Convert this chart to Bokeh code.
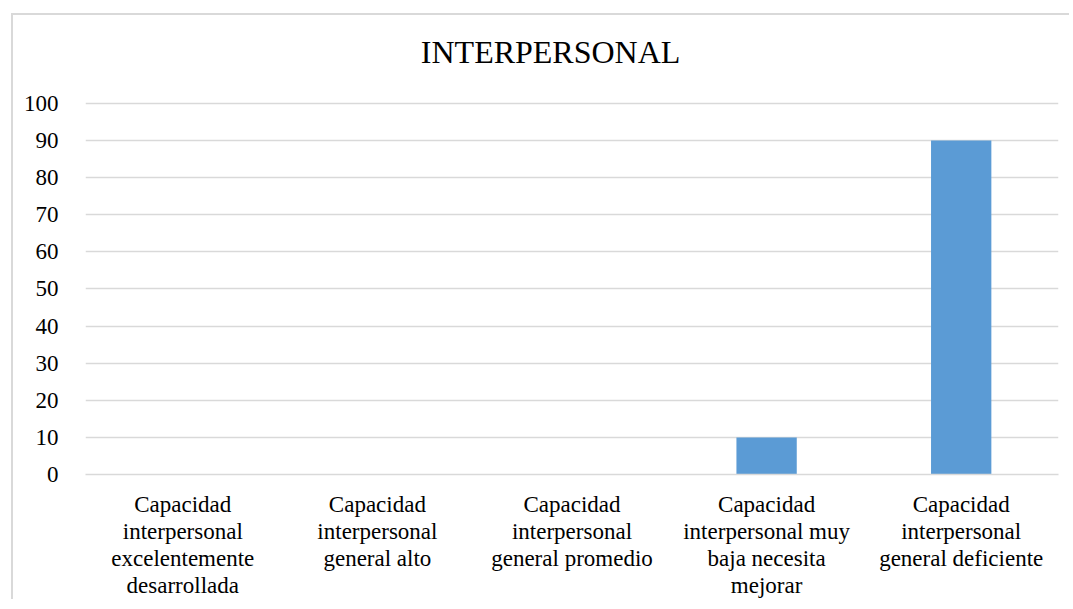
from bokeh.plotting import figure
from bokeh.models import Range1d, Label, FixedTicker, ColumnDataSource
from bokeh.embed import file_html
from bokeh.resources import INLINE

title_text = "INTERPERSONAL"
categories = [
    "Capacidad\ninterpersonal\nexcelentemente\ndesarrollada",
    "Capacidad\ninterpersonal\ngeneral alto",
    "Capacidad\ninterpersonal\ngeneral promedio",
    "Capacidad\ninterpersonal muy\nbaja necesita\nmejorar",
    "Capacidad\ninterpersonal\ngeneral deficiente",
]
values = [0, 0, 0, 10, 90]
y_ticks = [0, 10, 20, 30, 40, 50, 60, 70, 80, 90, 100]

FONT = "'Liberation Serif', 'Times New Roman', serif"
GRID = "#d9d9d9"

# frame extends above 100 (invisible) so the title can sit inside it
Y_TOP = 118.3

p = figure(
    x_range=categories,
    y_range=Range1d(0, Y_TOP),
    width=1058, height=586,
    output_backend="svg", toolbar_location=None,
    min_border_left=72, min_border_right=13,
    min_border_top=20, min_border_bottom=127,
    margin=(13, 0, 0, 11),
)
p.styles = {"border-left": "2px solid #d9d9d9", "border-top": "2px solid #d9d9d9"}

# title centred on the whole chart box (slightly left of the plot-area centre)
title = Label(x=len(categories) / 2 - 0.11, y=113.8, text=title_text,
              text_align="center", text_baseline="middle",
              text_font=FONT, text_font_size="32px", text_color="#000000")
p.add_layout(title)

src = ColumnDataSource(dict(cat=categories, val=values))
p.vbar(x="cat", top="val", width=0.31, source=src, fill_color="#5B9BD5",
       line_color=None)

p.outline_line_color = None
p.xgrid.grid_line_color = None
p.ygrid.grid_line_color = GRID
p.ygrid.grid_line_width = 1.5
p.yaxis.ticker = FixedTicker(ticks=y_ticks)

for ax in (p.xaxis[0], p.yaxis[0]):
    ax.major_label_text_font = FONT
    ax.major_label_text_font_size = "23px"
    ax.major_label_text_color = "#000000"
    ax.major_tick_line_color = None
    ax.minor_tick_line_color = None

p.yaxis.axis_line_color = None
p.yaxis.major_label_standoff = 21
p.xaxis.axis_line_color = GRID
p.xaxis.axis_line_width = 1.5
p.xaxis.major_label_standoff = 11
p.xaxis.major_label_text_line_height = 1.09

open("out.html", "w").write(file_html(p, INLINE))
